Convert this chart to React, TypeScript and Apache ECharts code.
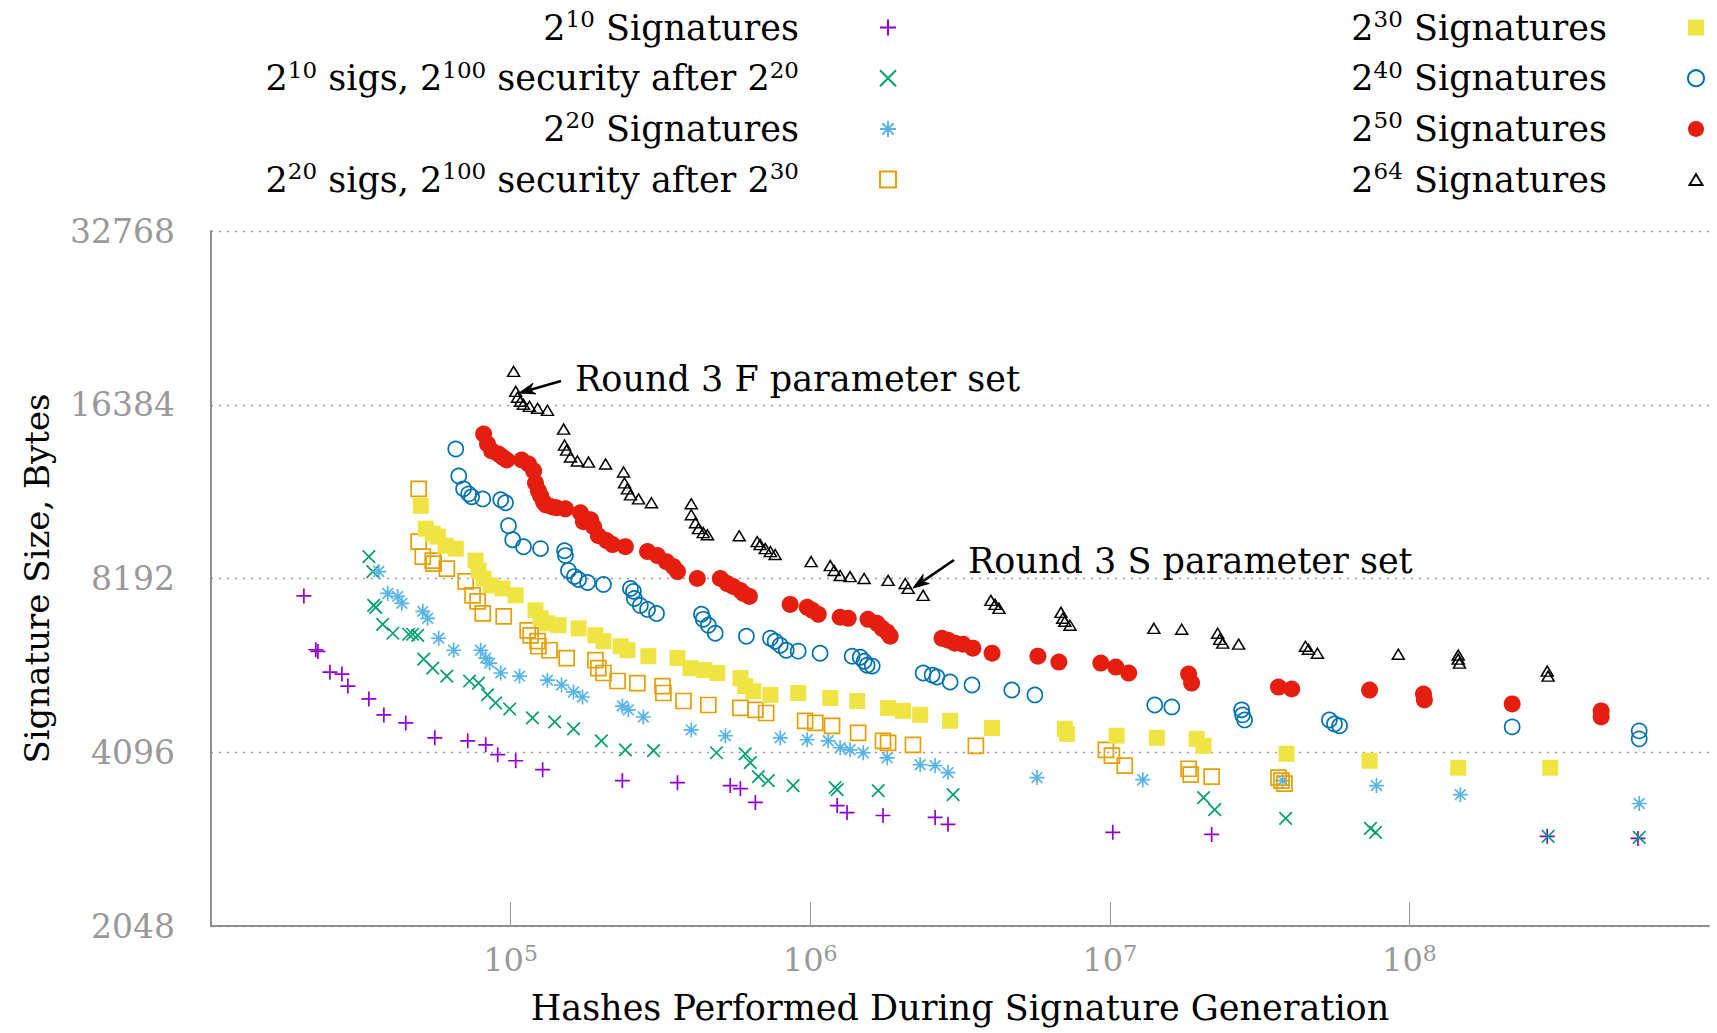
import React, { useEffect, useRef } from 'react';
import * as echarts from 'echarts';

// Each point as [log10(hashes performed), log2(signature bytes)].
const sig10: number[][] = [
  [4.31, 12.9], [4.35, 12.59], [4.357, 12.58], [4.397, 12.461], [4.437, 12.45], [4.457, 12.381],
  [4.527, 12.307], [4.577, 12.215], [4.65, 12.169], [4.747, 12.083], [4.857, 12.066], [4.917, 12.043],
  [4.957, 11.986], [5.017, 11.951], [5.107, 11.9], [5.373, 11.837], [5.557, 11.825], [5.733, 11.808],
  [5.767, 11.791], [5.817, 11.711], [6.09, 11.693], [6.123, 11.653], [6.243, 11.636], [6.417, 11.625],
  [6.46, 11.585], [7.01, 11.539], [7.34, 11.527], [8.46, 11.516], [8.763, 11.504],
];

const sig10sec: number[][] = [
  [4.527, 13.126], [4.54, 13.04], [4.543, 12.845], [4.55, 12.834], [4.573, 12.736], [4.607, 12.685],
  [4.66, 12.679], [4.673, 12.679], [4.69, 12.673], [4.71, 12.536], [4.74, 12.484], [4.787, 12.438],
  [4.863, 12.41], [4.893, 12.398], [4.923, 12.33], [4.95, 12.284], [4.997, 12.249], [5.073, 12.198],
  [5.147, 12.175], [5.21, 12.135], [5.303, 12.066], [5.383, 12.014], [5.477, 12.009], [5.687, 11.997],
  [5.783, 11.991], [5.8, 11.94], [5.827, 11.86], [5.86, 11.837], [5.943, 11.808], [6.083, 11.797],
  [6.09, 11.785], [6.227, 11.779], [6.477, 11.756], [7.313, 11.739], [7.35, 11.67], [7.587, 11.619],
  [7.87, 11.562], [7.887, 11.539], [8.463, 11.516], [8.767, 11.51],
];

const sig20: number[][] = [
  [4.56, 13.04], [4.59, 12.914], [4.623, 12.897], [4.637, 12.857], [4.707, 12.811], [4.723, 12.771],
  [4.76, 12.656], [4.81, 12.587], [4.9, 12.587], [4.917, 12.542], [4.93, 12.513], [4.967, 12.456],
  [5.03, 12.438], [5.123, 12.415], [5.17, 12.387], [5.21, 12.347], [5.24, 12.318], [5.373, 12.266],
  [5.393, 12.244], [5.443, 12.203], [5.603, 12.129], [5.717, 12.095], [5.9, 12.083], [5.99, 12.072],
  [6.06, 12.066], [6.1, 12.026], [6.133, 12.014], [6.177, 11.997], [6.257, 11.968], [6.367, 11.928],
  [6.417, 11.923], [6.46, 11.883], [6.757, 11.854], [7.11, 11.842], [7.577, 11.837], [7.89, 11.808],
  [8.17, 11.756], [8.767, 11.705],
];

const sig20sec: number[][] = [
  [4.693, 13.516], [4.693, 13.212], [4.707, 13.126], [4.74, 13.103], [4.743, 13.086], [4.787, 13.057],
  [4.85, 12.983], [4.873, 12.903], [4.89, 12.868], [4.907, 12.799], [4.977, 12.782], [5.057, 12.702],
  [5.067, 12.673], [5.09, 12.639], [5.093, 12.61], [5.13, 12.587], [5.187, 12.542], [5.283, 12.53],
  [5.293, 12.484], [5.31, 12.456], [5.357, 12.41], [5.423, 12.398], [5.507, 12.381], [5.51, 12.341],
  [5.577, 12.295], [5.66, 12.272], [5.767, 12.255], [5.817, 12.244], [5.853, 12.226], [5.983, 12.181],
  [6.017, 12.169], [6.073, 12.152], [6.16, 12.112], [6.243, 12.066], [6.26, 12.054], [6.343, 12.043],
  [6.553, 12.037], [6.987, 12.014], [7.007, 11.98], [7.05, 11.923], [7.263, 11.905], [7.27, 11.871],
  [7.34, 11.86], [7.563, 11.854], [7.573, 11.837], [7.583, 11.819],
];

const sig30: number[][] = [
  [4.7, 13.418], [4.717, 13.287], [4.74, 13.258], [4.757, 13.241], [4.783, 13.189], [4.817, 13.172],
  [4.883, 13.103], [4.893, 13.046], [4.91, 13.0], [4.933, 12.96], [4.973, 12.943], [5.017, 12.903],
  [5.083, 12.817], [5.1, 12.771], [5.123, 12.742], [5.16, 12.731], [5.227, 12.713], [5.283, 12.673],
  [5.31, 12.639], [5.367, 12.61], [5.39, 12.587], [5.46, 12.553], [5.557, 12.542], [5.6, 12.484],
  [5.647, 12.473], [5.69, 12.456], [5.767, 12.427], [5.783, 12.381], [5.81, 12.352], [5.867, 12.33],
  [5.96, 12.341], [6.067, 12.312], [6.157, 12.295], [6.26, 12.255], [6.31, 12.238], [6.367, 12.215],
  [6.467, 12.181], [6.607, 12.14], [6.85, 12.135], [6.857, 12.106], [7.023, 12.095], [7.157, 12.083],
  [7.29, 12.077], [7.313, 12.037], [7.59, 11.991], [7.867, 11.951], [8.163, 11.911], [8.47, 11.911],
];

const sig40: number[][] = [
  [4.817, 13.745], [4.827, 13.59], [4.843, 13.516], [4.86, 13.487], [4.87, 13.47], [4.907, 13.458],
  [4.967, 13.453], [4.983, 13.436], [4.993, 13.304], [5.007, 13.223], [5.043, 13.183], [5.1, 13.172],
  [5.18, 13.16], [5.183, 13.132], [5.193, 13.046], [5.213, 13.011], [5.227, 12.994], [5.257, 12.977],
  [5.31, 12.966], [5.4, 12.943], [5.41, 12.926], [5.413, 12.885], [5.433, 12.845], [5.457, 12.822],
  [5.487, 12.799], [5.637, 12.794], [5.643, 12.765], [5.66, 12.731], [5.683, 12.685], [5.787, 12.668],
  [5.867, 12.656], [5.883, 12.639], [5.9, 12.616], [5.92, 12.587], [5.96, 12.582], [6.033, 12.57],
  [6.14, 12.553], [6.167, 12.547], [6.18, 12.524], [6.19, 12.501], [6.207, 12.496], [6.377, 12.456],
  [6.407, 12.444], [6.423, 12.433], [6.467, 12.404], [6.54, 12.387], [6.673, 12.358], [6.75, 12.33],
  [7.15, 12.272], [7.207, 12.261], [7.44, 12.244], [7.443, 12.215], [7.45, 12.186], [7.733, 12.186],
  [7.75, 12.163], [7.767, 12.152], [8.343, 12.146], [8.767, 12.123], [8.767, 12.077],
];

const sig50: number[][] = [
  [4.91, 13.831], [4.923, 13.774], [4.937, 13.734], [4.96, 13.716], [4.973, 13.699], [4.987, 13.682],
  [5.037, 13.682], [5.06, 13.659], [5.077, 13.619], [5.083, 13.55], [5.093, 13.504], [5.1, 13.476],
  [5.11, 13.441], [5.117, 13.424], [5.137, 13.413], [5.153, 13.407], [5.183, 13.401], [5.233, 13.378],
  [5.243, 13.327], [5.267, 13.338], [5.277, 13.298], [5.293, 13.246], [5.32, 13.218], [5.34, 13.195],
  [5.383, 13.183], [5.457, 13.155], [5.49, 13.132], [5.52, 13.097], [5.543, 13.069], [5.557, 13.04],
  [5.623, 13.0], [5.7, 13.0], [5.723, 12.971], [5.743, 12.954], [5.767, 12.931], [5.777, 12.914],
  [5.797, 12.897], [5.933, 12.851], [5.99, 12.834], [6.007, 12.817], [6.027, 12.794], [6.1, 12.777],
  [6.127, 12.771], [6.193, 12.765], [6.223, 12.742], [6.24, 12.713], [6.257, 12.691], [6.267, 12.668],
  [6.44, 12.656], [6.46, 12.645], [6.483, 12.628], [6.51, 12.622], [6.543, 12.599], [6.607, 12.57],
  [6.76, 12.553], [6.83, 12.519], [6.97, 12.513], [7.02, 12.49], [7.063, 12.456], [7.263, 12.45],
  [7.273, 12.398], [7.563, 12.375], [7.607, 12.364], [7.867, 12.358], [8.047, 12.335], [8.05, 12.301],
  [8.343, 12.278], [8.64, 12.238], [8.64, 12.203],
];

const sig64: number[][] = [
  [5.01, 14.192], [5.017, 14.077], [5.023, 14.043], [5.033, 14.02], [5.043, 14.003], [5.063, 13.991],
  [5.09, 13.98], [5.123, 13.968], [5.177, 13.86], [5.18, 13.768], [5.187, 13.739], [5.2, 13.699],
  [5.223, 13.676], [5.26, 13.67], [5.317, 13.659], [5.377, 13.613], [5.38, 13.55], [5.39, 13.516],
  [5.4, 13.481], [5.427, 13.458], [5.47, 13.436], [5.603, 13.43], [5.603, 13.367], [5.617, 13.321],
  [5.627, 13.287], [5.643, 13.264], [5.657, 13.252], [5.763, 13.246], [5.823, 13.212], [5.833, 13.195],
  [5.85, 13.172], [5.867, 13.155], [5.883, 13.138], [6.003, 13.097], [6.067, 13.074], [6.08, 13.046],
  [6.1, 13.017], [6.133, 13.011], [6.18, 13.0], [6.26, 12.989], [6.317, 12.971], [6.327, 12.943],
  [6.377, 12.903], [6.603, 12.874], [6.617, 12.851], [6.63, 12.828], [6.837, 12.805], [6.843, 12.771],
  [6.85, 12.754], [6.867, 12.731], [7.147, 12.713], [7.24, 12.708], [7.36, 12.685], [7.367, 12.65],
  [7.377, 12.628], [7.43, 12.622], [7.653, 12.61], [7.663, 12.593], [7.693, 12.57], [7.963, 12.564],
  [8.163, 12.559], [8.163, 12.536], [8.167, 12.513], [8.46, 12.467], [8.463, 12.438],
];

const seriesNames = [
  '2^10 Signatures',
  '2^10 sigs, 2^100 security after 2^20',
  '2^20 Signatures',
  '2^20 sigs, 2^100 security after 2^30',
  '2^30 Signatures',
  '2^40 Signatures',
  '2^50 Signatures',
  '2^64 Signatures',
];

const yTickValues = [2048, 4096, 8192, 16384, 32768];
const xTickValues = [1e5, 1e6, 1e7, 1e8];

const xAxisTitle = 'Hashes Performed During Signature Generation';
const yAxisTitle = 'Signature Size, Bytes';

const annotations = [
  { label: 'Round 3 F parameter set', textX: 575, textY: 379, tail: [561, 381], tip: [519, 393] },
  { label: 'Round 3 S parameter set', textX: 968, textY: 561, tail: [954, 560], tip: [913, 588] },
];

const FONT = "'DejaVu Serif', serif";

const PLUS = 'path://M0,8 L16,8 M8,0 L8,16';
const CROSS = 'path://M0,0 L16,16 M16,0 L0,16';
const STAR = 'path://M0,8 L16,8 M8,0 L8,16 M2.3,2.3 L13.7,13.7 M13.7,2.3 L2.3,13.7';
const TRI_ICON = 'path://M0,0 M16,16 M1.5,13.5 L8,2.5 L14.5,13.5 Z';

const styles = [
  { symbol: PLUS, size: 15, color: '#9400d3', hollow: true, bw: 1.7 },
  { symbol: CROSS, size: 12.5, color: '#009e73', hollow: true, bw: 1.7 },
  { symbol: STAR, size: 15, color: '#56b4e9', hollow: true, bw: 1.7 },
  { symbol: 'rect', size: 15, color: '#e69f00', hollow: true, bw: 1.7 },
  { symbol: 'rect', size: 16, color: '#f0e442', hollow: false, bw: 0 },
  { symbol: 'circle', size: 15, color: '#0072b2', hollow: true, bw: 1.7 },
  { symbol: 'circle', size: 17, color: '#e51e10', hollow: false, bw: 0 },
  { symbol: 'triangle', size: [12, 10], color: '#000000', hollow: true, bw: 1.5 },
];

const seriesData = [sig10, sig10sec, sig20, sig20sec, sig30, sig40, sig50, sig64];

function toRich(name: string): string {
  const parts = name.split(/\^(\d+)/);
  return parts.map((p, i) => (i % 2 ? `{s|${p}}` : p ? `{b|${p}}` : '')).join('') + '{g|}';
}

function arrowHead(tail: number[], tip: number[], len = 16, half = 5.5): number[][] {
  const dx = tip[0] - tail[0];
  const dy = tip[1] - tail[1];
  const L = Math.hypot(dx, dy);
  const ux = dx / L;
  const uy = dy / L;
  const bx = tip[0] - ux * len;
  const by = tip[1] - uy * len;
  return [
    [tip[0], tip[1]],
    [bx - uy * half, by + ux * half],
    [tip[0] - ux * len * 0.7, tip[1] - uy * len * 0.7],
    [bx + uy * half, by - ux * half],
  ];
}

function buildOption(): any {
  const legendRich = {
    b: { fontFamily: FONT, fontSize: 35, lineHeight: 40, color: '#000' },
    s: { fontFamily: FONT, fontSize: 23, lineHeight: 22, verticalAlign: 'top', color: '#000' },
    g: { width: 76, lineHeight: 40 },
  };
  const legendCommon = {
    orient: 'vertical',
    align: 'right',
    top: 7.5,
    padding: 0,
    itemGap: 13.2,
    itemWidth: 16,
    itemHeight: 16,
    selectedMode: false,
    formatter: toRich,
    textStyle: { rich: legendRich },
  };

  const series = seriesNames.map((name, i) => {
    const st = styles[i];
    return {
      type: 'scatter',
      name,
      data: seriesData[i].map(([lx, ly]) => [Math.pow(10, lx), Math.pow(2, ly)]),
      symbol: st.symbol,
      symbolSize: st.size,
      itemStyle: st.hollow
        ? { color: 'transparent', borderColor: st.color, borderWidth: st.bw, opacity: 1 }
        : { color: st.color, borderWidth: 0, opacity: 1 },
      emphasis: { disabled: true },
      z: 2 + i,
    };
  });

  const graphic: any[] = [];
  annotations.forEach((a) => {
    graphic.push({
      type: 'text',
      x: a.textX,
      y: a.textY,
      silent: true,
      style: { text: a.label, fontFamily: FONT, fontSize: 35, fill: '#000', align: 'left', verticalAlign: 'middle' },
    });
    const head = arrowHead(a.tail, a.tip);
    graphic.push({
      type: 'line',
      silent: true,
      shape: { x1: a.tail[0], y1: a.tail[1], x2: head[2][0], y2: head[2][1] },
      style: { stroke: '#000', lineWidth: 2.6 },
    });
    graphic.push({
      type: 'polygon',
      silent: true,
      shape: { points: head },
      style: { fill: '#000', stroke: '#000', lineWidth: 1 },
    });
  });

  return {
    animation: false,
    backgroundColor: '#ffffff',
    grid: { left: 211, right: 8, top: 231, bottom: 104, containLabel: false },
    legend: [
      { ...legendCommon, right: 820, data: seriesNames.slice(0, 4) },
      {
        ...legendCommon,
        right: 12,
        data: seriesNames.slice(4).map((n) => (n === '2^64 Signatures' ? { name: n, icon: TRI_ICON } : n)),
      },
    ],
    xAxis: {
      type: 'log',
      logBase: 10,
      min: 1e4,
      max: 1e9,
      axisLine: { show: true, lineStyle: { color: '#8f8f8f', width: 2 } },
      axisTick: { show: true, inside: true, length: 24, customValues: xTickValues, lineStyle: { color: '#9a9a9a', width: 1 } },
      axisLabel: {
        customValues: xTickValues,
        margin: 16,
        formatter: (v: number) => `{b|10}{s|${Math.round(Math.log10(v))}}`,
        rich: {
          b: { fontFamily: FONT, fontSize: 32, lineHeight: 36, color: '#999' },
          s: { fontFamily: FONT, fontSize: 22, lineHeight: 14, verticalAlign: 'top', color: '#999' },
        },
      },
      splitLine: { show: false },
      name: xAxisTitle,
      nameLocation: 'middle',
      nameGap: 62,
      nameTextStyle: { fontFamily: FONT, fontSize: 35, lineHeight: 40, color: '#000' },
    },
    yAxis: {
      type: 'log',
      logBase: 2,
      min: yTickValues[0],
      max: yTickValues[yTickValues.length - 1],
      axisLine: { show: true, lineStyle: { color: '#8f8f8f', width: 2 } },
      axisTick: { show: false },
      axisLabel: {
        margin: 36,
        fontFamily: FONT,
        fontSize: 33,
        color: '#999',
        formatter: (v: number) => String(Math.round(v)),
      },
      splitLine: { show: true, lineStyle: { type: [2, 6], color: '#9a9a9a', width: 1.3 } },
      name: yAxisTitle,
      nameLocation: 'middle',
      nameGap: 154,
      nameTextStyle: { fontFamily: FONT, fontSize: 34, lineHeight: 40, color: '#000' },
    },
    series,
    graphic,
  };
}

export default function App() {
  const ref = useRef<HTMLDivElement>(null);
  useEffect(() => {
    if (!ref.current) return;
    const chart = echarts.init(ref.current, undefined, { renderer: 'svg' });
    chart.setOption(buildOption());
    return () => {
      chart.dispose();
    };
  }, []);
  return (
    <div
      ref={ref}
      style={{ position: 'fixed', left: 0, top: 0, width: 1717, height: 1033, background: '#ffffff' }}
    />
  );
}
